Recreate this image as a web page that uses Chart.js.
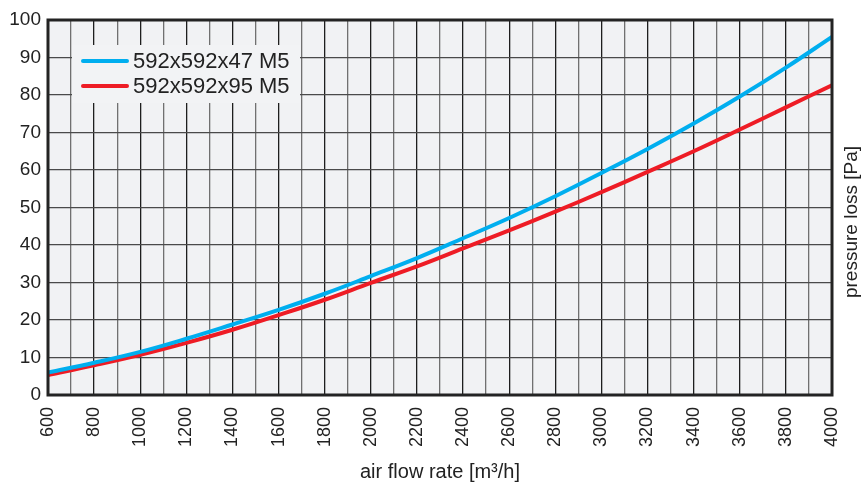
<!DOCTYPE html>
<html>
<head>
<meta charset="utf-8">
<script src="https://cdn.jsdelivr.net/npm/chart.js@4/dist/chart.umd.min.js"></script>
<style>
  body { margin: 0; background: #fff; }
  #wrap { width: 861px; height: 484px; }
</style>
</head>
<body>
<div id="wrap"><canvas id="grafica"></canvas></div>
<script>
// air flow rate [m3/h]
const flujo = [600, 800, 1000, 1200, 1400, 1600, 1800, 2000, 2200, 2400, 2600, 2800, 3000, 3200, 3400, 3600, 3800, 4000];
// pressure loss [Pa]
const filtro47 = [6.0, 8.6, 11.5, 15.0, 18.8, 22.7, 27.0, 31.7, 36.5, 41.8, 47.2, 53.0, 59.2, 65.6, 72.4, 79.6, 87.3, 95.5];
const filtro95 = [5.3, 7.9, 10.7, 13.9, 17.4, 21.3, 25.4, 29.9, 34.3, 39.1, 43.9, 48.9, 54.1, 59.5, 65.0, 70.8, 76.7, 82.6];
const nombres = ["592x592x47 M5", "592x592x95 M5"];
const colores = ["#00aeef", "#ee1c25"];

const FUENTE = "'Liberation Sans', Arial, Helvetica, sans-serif";
const TEXTO = "#222";

const puntos = (ys) => flujo.map((x, i) => ({ x: x, y: ys[i] }));

// fondo gris, marco, leyenda interna y titulo del eje derecho
const decorado = {
  id: "decorado",
  beforeDraw(chart) {
    const { ctx, chartArea: a } = chart;
    ctx.save();
    ctx.fillStyle = "#f1f2f4";
    ctx.fillRect(a.left, a.top, a.right - a.left, a.bottom - a.top);
    ctx.restore();
  },
  afterDatasetsDraw(chart) {
    const { ctx, chartArea: a } = chart;
    ctx.save();
    // leyenda
    ctx.fillStyle = "#f2f3f5";
    ctx.fillRect(72, 45, 228, 58);
    ctx.font = "22px " + FUENTE;
    ctx.textBaseline = "middle";
    ctx.textAlign = "left";
    chart.data.datasets.forEach((ds, i) => {
      const y = 61 + i * 25;
      ctx.strokeStyle = ds.borderColor;
      ctx.lineWidth = 4;
      ctx.lineCap = "round";
      ctx.beginPath();
      ctx.moveTo(83, y);
      ctx.lineTo(127, y);
      ctx.stroke();
      ctx.fillStyle = TEXTO;
      ctx.fillText(ds.label, 133, y + 1);
    });
    // marco
    ctx.strokeStyle = "#232323";
    ctx.lineWidth = 3;
    ctx.lineCap = "butt";
    ctx.strokeRect(a.left, a.top, a.right - a.left, a.bottom - a.top);
    // titulo eje y (derecha)
    ctx.translate(852, 222);
    ctx.rotate(-Math.PI / 2);
    ctx.font = "19px " + FUENTE;
    ctx.textAlign = "center";
    ctx.fillStyle = TEXTO;
    ctx.fillText("pressure loss [Pa]", 0, 0);
    ctx.restore();
  }
};

new Chart(document.getElementById("grafica"), {
  type: "line",
  data: {
    datasets: [
      { label: nombres[0], data: puntos(filtro47), borderColor: colores[0], borderWidth: 4, pointRadius: 0, tension: 0.4, fill: false },
      { label: nombres[1], data: puntos(filtro95), borderColor: colores[1], borderWidth: 4, pointRadius: 0, tension: 0.4, fill: false }
    ]
  },
  options: {
    responsive: true,
    maintainAspectRatio: false,
    animation: false,
    layout: { padding: { top: 20, right: 29, left: 0, bottom: 0 } },
    plugins: {
      legend: { display: false },
      tooltip: { enabled: false }
    },
    scales: {
      x: {
        type: "linear",
        min: 600,
        max: 4000,
        afterFit: (s) => { s.height = 89; s.paddingLeft = 0; s.paddingRight = 0; },
        border: { display: false },
        grid: {
          drawTicks: false,
          lineWidth: 1.3,
          color: (c) => (c.tick && c.tick.value % 200 === 0 ? "#1e1e1e" : "#707070")
        },
        ticks: {
          stepSize: 100,
          autoSkip: false,
          minRotation: 90,
          maxRotation: 90,
          padding: 12,
          color: TEXTO,
          font: { family: FUENTE, size: 18 },
          callback: (v) => (v % 200 === 0 ? String(v) : "")
        },
        title: {
          display: true,
          text: "air flow rate [m³/h]",
          color: TEXTO,
          font: { family: FUENTE, size: 20 },
          padding: { top: 5, bottom: 0 }
        }
      },
      y: {
        min: 0,
        max: 100,
        afterFit: (s) => { s.width = 48; },
        border: { display: false },
        grid: { drawTicks: false, lineWidth: 1.3, color: "#4a4a4a" },
        ticks: {
          stepSize: 10,
          padding: 7,
          color: TEXTO,
          font: { family: FUENTE, size: 19 }
        }
      }
    }
  },
  plugins: [decorado]
});
</script>
</body>
</html>
